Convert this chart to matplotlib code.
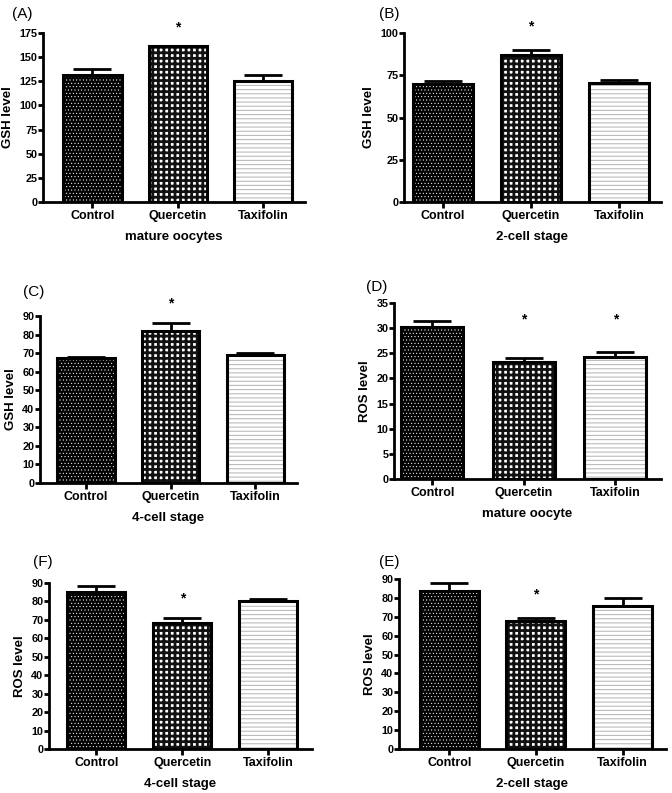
import matplotlib
matplotlib.use('Agg')
import matplotlib.pyplot as plt

plt.rcParams['font.family'] = ['Liberation Sans', 'DejaVu Sans']

groups = ['Control', 'Quercetin', 'Taxifolin']

# panel data: means and upper error (SEM)
gsh_oocyte = [131.5, 162, 125.6]
gsh_oocyte_err = [6.2, 0, 5.9]
gsh_2cell = [69.8, 87, 70.5]
gsh_2cell_err = [1.8, 3.0, 1.5]
gsh_4cell = [67.2, 82, 69]
gsh_4cell_err = [0.9, 4.0, 1.0]
ros_oocyte = [30.2, 23.3, 24.3]
ros_oocyte_err = [1.3, 0.8, 0.9]
ros_4cell = [85.1, 68.3, 80]
ros_4cell_err = [3.4, 2.7, 1.5]
ros_2cell = [83.6, 67.8, 75.7]
ros_2cell_err = [4.4, 1.4, 4.1]

# star positions (which bars are significant) and height of the star
stars_A = {1: 181}
stars_B = {1: 104}
stars_C = {1: 97}
stars_D = {1: 31.7, 2: 31.7}
stars_F = {1: 81.5}
stars_E = {1: 82}

W, H = 672, 793
fig = plt.figure(figsize=(W / 100, H / 100), dpi=100)

# pixel boxes: left, right, top(ymax), bottom(0)
panels = [
    dict(tag='(A)', tagxy=(12, 14), box=(43, 305, 33, 202), xlim=(-0.58, 2.49),
         vals=gsh_oocyte, err=gsh_oocyte_err, ymax=175, step=25, ylab='GSH level',
         xlab='mature oocytes', stars=stars_A),
    dict(tag='(B)', tagxy=(379, 14), box=(404, 661, 33, 202), xlim=(-0.44, 2.48),
         vals=gsh_2cell, err=gsh_2cell_err, ymax=100, step=25, ylab='GSH level',
         xlab='2-cell stage', stars=stars_B),
    dict(tag='(C)', tagxy=(23, 292), box=(40, 297, 316, 483), xlim=(-0.54, 2.49),
         vals=gsh_4cell, err=gsh_4cell_err, ymax=90, step=10, ylab='GSH level',
         xlab='4-cell stage', stars=stars_C),
    dict(tag='(D)', tagxy=(366, 287), box=(394, 661, 303, 479), xlim=(-0.42, 2.5),
         vals=ros_oocyte, err=ros_oocyte_err, ymax=35, step=5, ylab='ROS level',
         xlab='mature oocyte', stars=stars_D),
    dict(tag='(F)', tagxy=(33, 562), box=(49, 312, 583, 749), xlim=(-0.55, 2.51),
         vals=ros_4cell, err=ros_4cell_err, ymax=90, step=10, ylab='ROS level',
         xlab='4-cell stage', stars=stars_F),
    dict(tag='(E)', tagxy=(379, 562), box=(399, 666, 579, 749), xlim=(-0.58, 2.5),
         vals=ros_2cell, err=ros_2cell_err, ymax=90, step=10, ylab='ROS level',
         xlab='2-cell stage', stars=stars_E),
]

# fill styles per group: face, hatch colour, hatch, hatch line width
styles = [('black', 'white', '.....', 0.35),
          ('white', '#111111', '+++', 2.0),
          ('white', '#bbbbbb', '----', 0.8)]

for p in panels:
    l, r, t, b = p['box']
    ax = fig.add_axes([l / W, 1 - b / H, (r - l) / W, (b - t) / H])
    x = list(range(len(groups)))
    for i in x:
        face, hc, hatch, hlw = styles[i]
        plt.rcParams['hatch.linewidth'] = hlw
        bars = ax.bar(x[i], p['vals'][i], width=0.68, color=face, edgecolor=hc,
                      hatch=hatch, linewidth=0, zorder=2)
        for bar in bars:
            if hasattr(bar, 'set_hatch_linewidth'):
                bar.set_hatch_linewidth(hlw)
    ax.bar(x, p['vals'], width=0.68, facecolor='none', edgecolor='black',
           linewidth=2.2, zorder=3)
    ax.errorbar(x, p['vals'], yerr=[[0] * 3, p['err']], fmt='none', ecolor='black',
                elinewidth=2, capsize=14, capthick=2, zorder=1)
    for i, y in p['stars'].items():
        ax.text(i, y, '*', ha='center', va='center', fontsize=10, fontweight='bold',
                clip_on=False)
    ax.set_xlim(*p['xlim'])
    ax.set_ylim(0, p['ymax'])
    ax.set_yticks(range(0, p['ymax'] + 1, p['step']))
    ax.set_xticks(x)
    ax.set_xticklabels(groups, fontsize=9, fontweight='bold')
    for lab in ax.get_yticklabels():
        lab.set_fontweight('bold')
        lab.set_fontsize(7.8)
    ax.spines['top'].set_visible(False)
    ax.spines['right'].set_visible(False)
    ax.spines['left'].set_linewidth(2)
    ax.spines['bottom'].set_linewidth(2)
    ax.tick_params(axis='y', length=3.5, width=2, pad=0.5)
    ax.tick_params(axis='x', length=4, width=2, pad=2)
    ax.set_ylabel(p['ylab'], fontsize=9.5, fontweight='bold', labelpad=4)
    ax.set_xlabel(p['xlab'], fontsize=9.5, fontweight='bold', labelpad=6)
    fig.text(p['tagxy'][0] / W, 1 - p['tagxy'][1] / H, p['tag'], fontsize=11,
             ha='left', va='center')

plt.savefig('out.png', dpi=100)
